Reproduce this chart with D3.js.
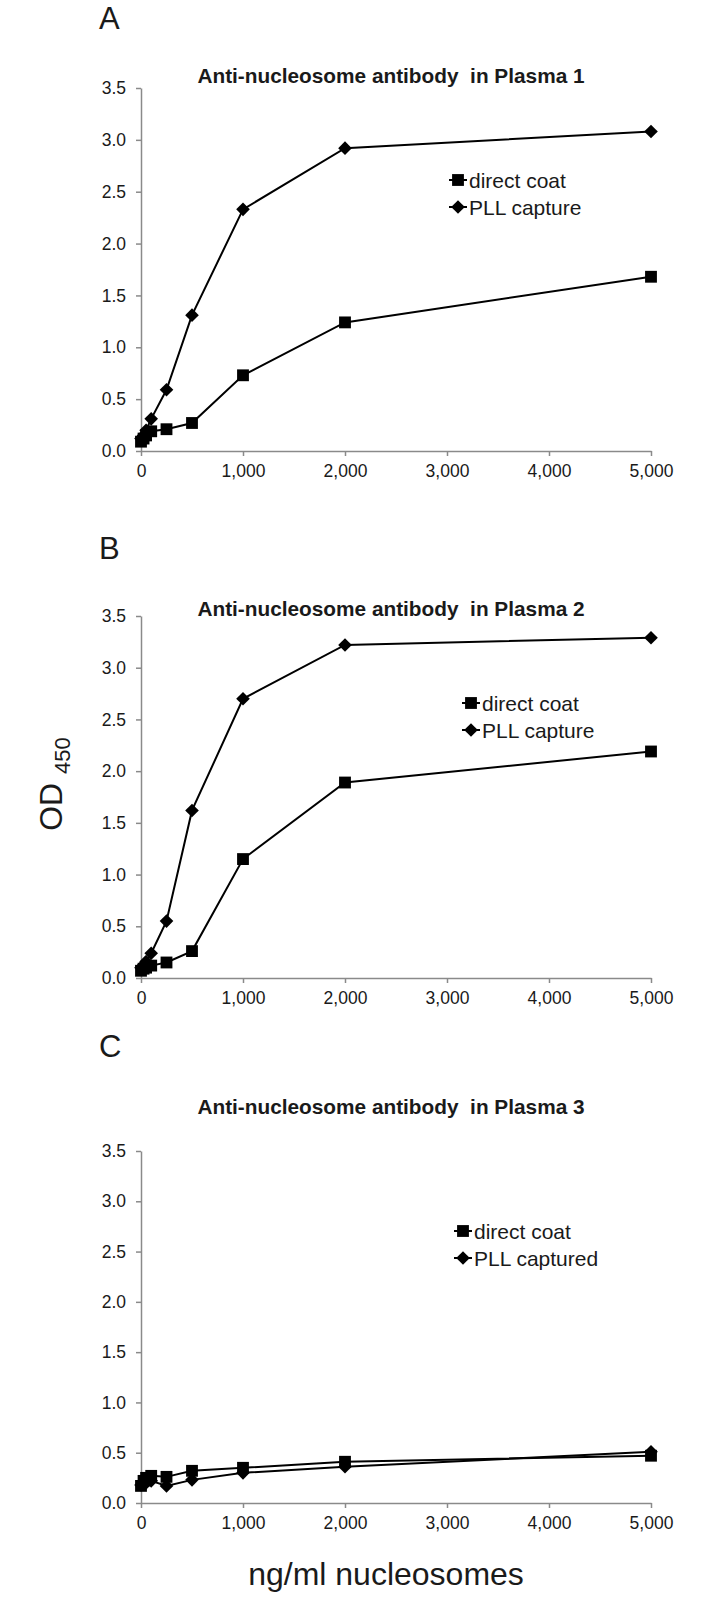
<!DOCTYPE html>
<html>
<head>
<meta charset="utf-8">
<script src="https://cdn.jsdelivr.net/npm/d3@7"></script>
<style>
  html, body { margin: 0; padding: 0; background: #fff; }
  svg { display: block; font-family: "Liberation Sans", Arial, sans-serif; }
</style>
</head>
<body>
<svg id="chart" width="707" height="1598"></svg>
<script>
// ---- data ----
const concentrations = [0, 25, 50, 100, 250, 500, 1000, 2000, 5000];
const xTicks = [0, 1000, 2000, 3000, 4000, 5000];
const yTicks = [0, 0.5, 1.0, 1.5, 2.0, 2.5, 3.0, 3.5];

const panelLetters = ["A", "B", "C"];
const panelTitles = [
  "Anti-nucleosome antibody  in Plasma 1",
  "Anti-nucleosome antibody  in Plasma 2",
  "Anti-nucleosome antibody  in Plasma 3"
];
const directLabels = ["direct coat", "direct coat", "direct coat"];
const pllLabels = ["PLL capture", "PLL capture", "PLL captured"];

const directCoat1 = [0.09, 0.12, 0.15, 0.19, 0.21, 0.27, 0.73, 1.24, 1.68];
const pllCapture1 = [0.12, 0.15, 0.20, 0.31, 0.59, 1.31, 2.33, 2.92, 3.08];
const directCoat2 = [0.07, 0.09, 0.10, 0.12, 0.15, 0.26, 1.15, 1.89, 2.19];
const pllCapture2 = [0.10, 0.12, 0.16, 0.24, 0.55, 1.62, 2.70, 3.22, 3.29];
const directCoat3 = [0.17, 0.22, 0.25, 0.27, 0.26, 0.32, 0.35, 0.41, 0.47];
const pllCapture3 = [0.18, 0.19, 0.20, 0.22, 0.17, 0.23, 0.30, 0.36, 0.51];

const directSeries = [directCoat1, directCoat2, directCoat3];
const pllSeries = [pllCapture1, pllCapture2, pllCapture3];

const xAxisTitle = "ng/ml nucleosomes";
const yAxisTitle = "OD";
const yAxisSub = "450";

// ---- layout ----
const svg = d3.select("#chart");
const xLeft = 141, xRight = 651;
const panels = [
  { top: 88,   bottom: 451,  letterY: 29,   titleY: 83,   legX: 458, legY: 180 },
  { top: 616,  bottom: 978,  letterY: 559,  titleY: 616,  legX: 471, legY: 703 },
  { top: 1151, bottom: 1503, letterY: 1057, titleY: 1114, legX: 463, legY: 1231 }
];
const axisColor = "#8a8a8a";
const textColor = "#1a1a1a";

const x = d3.scaleLinear().domain([0, 5000]).range([xLeft, xRight]);

function diamondPath(s) {
  return `M0,${-s}L${s},0L0,${s}L${-s},0Z`;
}
const squareSym = d3.symbol().type(d3.symbolSquare).size(140);
const diamondHalf = 6.8;

panels.forEach((p, i) => {
  const y = d3.scaleLinear().domain([0, 3.5]).range([p.bottom, p.top]);
  const g = svg.append("g");

  // panel letter
  g.append("text").attr("x", 99).attr("y", p.letterY)
    .attr("font-size", 31).attr("fill", textColor).text(panelLetters[i]);

  // title
  g.append("text").attr("x", 391).attr("y", p.titleY)
    .attr("text-anchor", "middle").attr("font-size", 20.8).attr("font-weight", "bold")
    .attr("fill", textColor).style("white-space", "pre").text(panelTitles[i]);

  // y axis
  const ya = g.append("g").attr("transform", `translate(${xLeft},0)`)
    .call(d3.axisLeft(y).tickValues(yTicks).tickFormat(d3.format(".1f"))
      .tickSize(5).tickSizeOuter(0).tickPadding(10));
  // x axis
  const xa = g.append("g").attr("transform", `translate(0,${p.bottom})`)
    .call(d3.axisBottom(x).tickValues(xTicks).tickFormat(d3.format(","))
      .tickSize(5).tickSizeOuter(0).tickPadding(9));
  [ya, xa].forEach(a => {
    a.select(".domain").attr("stroke", axisColor).attr("stroke-width", 1.5);
    a.selectAll(".tick line").attr("stroke", axisColor).attr("stroke-width", 1.5);
    a.selectAll(".tick text").attr("fill", textColor).attr("font-size", 17.5)
      .attr("font-family", "Liberation Sans, Arial, sans-serif");
  });

  const line = d3.line().x((d, k) => x(concentrations[k])).y(d => y(d));

  // direct coat (squares)
  g.append("path").datum(directSeries[i]).attr("d", line)
    .attr("fill", "none").attr("stroke", "#000").attr("stroke-width", 2);
  g.selectAll(".sq").data(directSeries[i]).enter().append("path")
    .attr("transform", (d, k) => `translate(${x(concentrations[k])},${y(d)})`)
    .attr("d", squareSym).attr("fill", "#000");

  // PLL capture (diamonds)
  g.append("path").datum(pllSeries[i]).attr("d", line)
    .attr("fill", "none").attr("stroke", "#000").attr("stroke-width", 2);
  g.selectAll(".dm").data(pllSeries[i]).enter().append("path")
    .attr("transform", (d, k) => `translate(${x(concentrations[k])},${y(d)})`)
    .attr("d", diamondPath(diamondHalf)).attr("fill", "#000");

  // legend
  const lg = g.append("g").attr("transform", `translate(${p.legX},${p.legY})`);
  const rows = [
    { label: directLabels[i], sym: "sq" },
    { label: pllLabels[i], sym: "dm" }
  ];
  rows.forEach((r, k) => {
    const ry = k * 27;
    lg.append("line").attr("x1", -9).attr("x2", 9).attr("y1", ry).attr("y2", ry)
      .attr("stroke", "#000").attr("stroke-width", 2);
    lg.append("path").attr("transform", `translate(0,${ry})`)
      .attr("d", r.sym === "sq" ? squareSym : diamondPath(diamondHalf)).attr("fill", "#000");
    lg.append("text").attr("x", 11).attr("y", ry + 7.5)
      .attr("font-size", 21).attr("fill", textColor).text(r.label);
  });
});

// y axis title (rotated)
const yt = svg.append("text")
  .attr("transform", "translate(62,784) rotate(-90)")
  .attr("text-anchor", "middle").attr("font-size", 32).attr("fill", textColor);
yt.append("tspan").text(yAxisTitle + " ");
yt.append("tspan").attr("font-size", 22).attr("dy", 8).text(yAxisSub);

// x axis title
svg.append("text").attr("x", 386).attr("y", 1585)
  .attr("text-anchor", "middle").attr("font-size", 32).attr("fill", textColor)
  .text(xAxisTitle);
</script>
</body>
</html>
